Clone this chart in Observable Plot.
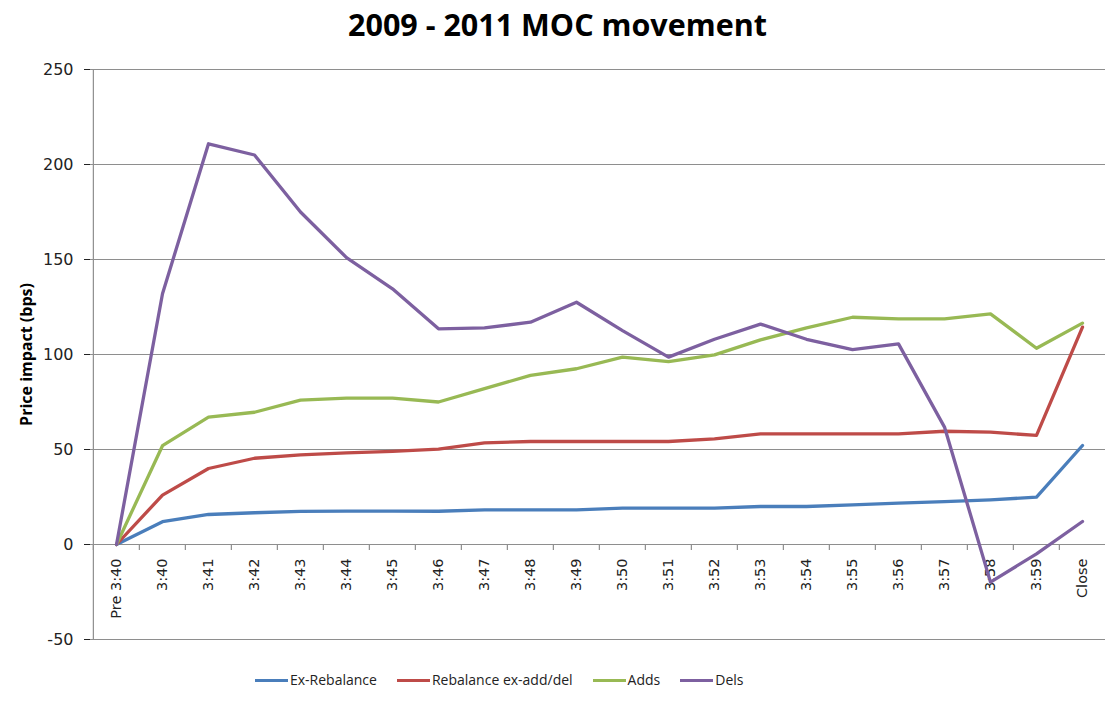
<!DOCTYPE html>
<html>
<head>
<meta charset="utf-8">
<script src="https://cdn.jsdelivr.net/npm/d3@7"></script>
<script src="https://cdn.jsdelivr.net/npm/@observablehq/plot@0.6"></script>
<style>
  html, body { margin: 0; padding: 0; background: #fff; }
  #wrap { width: 1105px; height: 704px; position: relative; }
  #title {
    height: 48px; line-height: 48px; text-align: center; padding-left: 10px;
    font-family: "Open Sans", sans-serif; font-weight: bold; font-size: 30.5px; color: #000;
  }
  #legend {
    height: 40px; line-height: 40px; padding-left: 255px;
    font-family: "Open Sans", sans-serif; font-size: 14px; color: #222;
    display: flex; align-items: center;
  }
  .item { display: flex; align-items: center; margin-right: 20px; }
  .sw { display: inline-block; width: 33px; height: 3px; margin-right: 2px; }
</style>
</head>
<body>
<div id="wrap">
  <div id="title">2009 - 2011 MOC movement</div>
  <div id="chart"></div>
  <div id="legend"></div>
</div>
<script>
// Minute buckets into the close
const times = ["Pre 3:40", "3:40", "3:41", "3:42", "3:43", "3:44", "3:45", "3:46", "3:47", "3:48",
  "3:49", "3:50", "3:51", "3:52", "3:53", "3:54", "3:55", "3:56", "3:57", "3:58", "3:59", "Close"];

// Cumulative price impact (bps) per group
const exRebalance = [0, 12, 15.8, 16.7, 17.4, 17.6, 17.6, 17.5, 18.2, 18.2, 18.2, 19.1, 19.1, 19.1, 20, 20, 20.9, 21.8, 22.6, 23.5, 24.9, 52.1];
const rebalanceExAddDel = [0, 26, 40, 45.4, 47.2, 48.2, 49, 50.2, 53.5, 54.2, 54.2, 54.2, 54.2, 55.6, 58.2, 58.2, 58.2, 58.2, 59.6, 59.1, 57.4, 114.4];
const adds = [0, 52, 67, 69.6, 76, 77, 77, 75, 82, 89, 92.5, 98.6, 96.3, 99.8, 107.7, 114, 119.6, 118.8, 118.8, 121.4, 103.3, 116.5];
const dels = [0, 132, 210.9, 205, 175, 151, 134.6, 113.5, 114, 117, 127.5, 112.6, 98.6, 108, 116, 108, 102.6, 105.6, 61.8, -19.8, -4.9, 12.1];

const seriesNames = ["Ex-Rebalance", "Rebalance ex-add/del", "Adds", "Dels"];
const seriesColors = ["#4A7EBB", "#BE4B48", "#98B954", "#7D60A0"];
const yTicks = [-50, 0, 50, 100, 150, 200, 250];

const seriesValues = [exRebalance, rebalanceExAddDel, adds, dels];
const rows = seriesNames.flatMap((name, s) =>
  times.map((t, i) => ({time: t, series: name, value: seriesValues[s][i]})));

const width = 1105, height = 612;
const marginLeft = 90, marginTop = 21, marginBottom = 21;
const xRange = [90, 1108];
const step = (xRange[1] - xRange[0]) / times.length;
const gridColor = "#8e8e8e";

const chart = Plot.plot({
  width, height, marginLeft, marginRight: 0, marginTop, marginBottom,
  style: {fontFamily: "DejaVu Sans, Verdana, sans-serif", fontSize: "16px", color: "#222", background: "#fff", overflow: "visible"},
  x: {type: "band", domain: times, range: xRange, padding: 0, axis: null},
  y: {domain: [-50, 250], ticks: yTicks, tickSize: 6, tickPadding: 11, tickFormat: d => String(d), label: null},
  color: {domain: seriesNames, range: seriesColors},
  marks: [
    // horizontal gridlines (the zero line doubles as the category axis)
    Plot.ruleY(yTicks, {stroke: gridColor, strokeWidth: 1.2}),
    // vertical value axis line
    Plot.ruleX([times[0]], {stroke: gridColor, strokeWidth: 1.2, dx: -step / 2}),
    // category tick marks on the boundaries between minutes
    Plot.ruleX(times, {x: d => d, y1: 0, y2: 0, insetBottom: -6, dx: -step / 2, stroke: gridColor, strokeWidth: 1.2}),
    Plot.ruleX([times[times.length - 1]], {x: d => d, y1: 0, y2: 0, insetBottom: -6, dx: step / 2, stroke: gridColor, strokeWidth: 1.2}),
    // rotated category labels hanging below the zero line
    Plot.text(times, {x: d => d, y: 0, text: d => d, rotate: -90, textAnchor: "end", dy: 14, fontSize: 14.5, fill: "#222"}),
    // series lines
    Plot.line(rows, {x: "time", y: "value", z: "series", stroke: "series", strokeWidth: 3.3, strokeLinejoin: "round", strokeLinecap: "round"}),
    // value axis title
    Plot.text(["Price impact (bps)"], {frameAnchor: "left", rotate: -90, dx: -64, text: d => d, textAnchor: "middle",
      fontFamily: "Open Sans, sans-serif", fontWeight: "bold", fontSize: 16, fill: "#000"})
  ]
});
document.getElementById("chart").appendChild(chart);

// legend
const legend = document.getElementById("legend");
seriesNames.forEach((name, i) => {
  const item = document.createElement("span");
  item.className = "item";
  const sw = document.createElement("span");
  sw.className = "sw";
  sw.style.background = seriesColors[i];
  item.appendChild(sw);
  item.appendChild(document.createTextNode(name));
  legend.appendChild(item);
});
</script>
</body>
</html>
